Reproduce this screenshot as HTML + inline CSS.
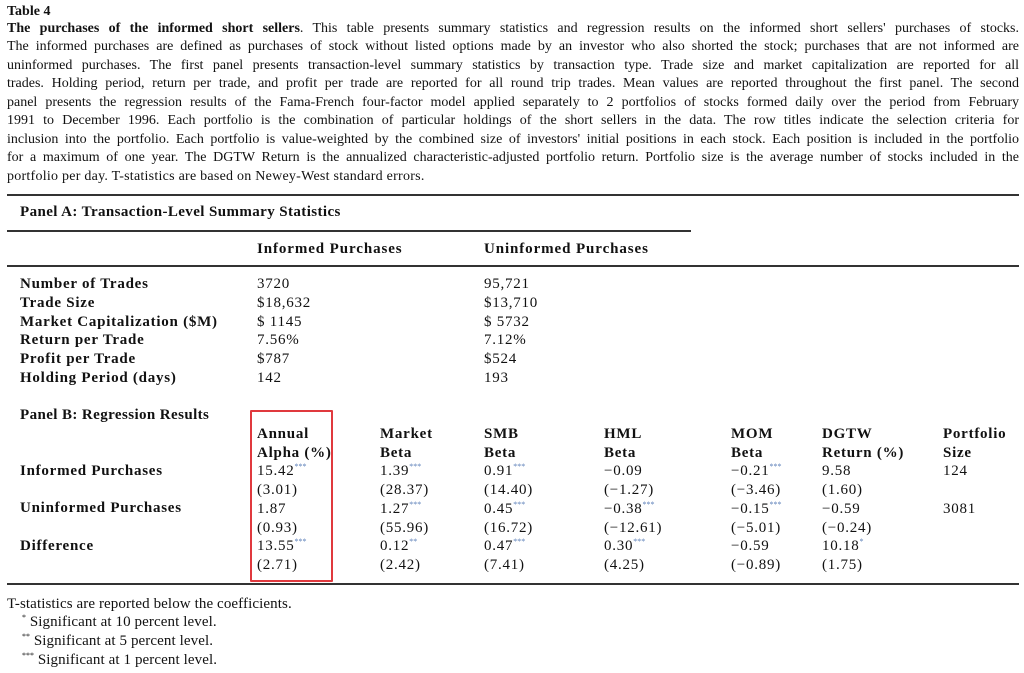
<!DOCTYPE html>
<html><head><meta charset="utf-8"><style>
body{margin:0;width:1024px;height:673px;background:#fff;font-family:"Liberation Serif",serif;color:#111;position:relative;overflow:hidden}
.a{position:absolute;font-size:14px;line-height:18px;white-space:nowrap}
.t{font-size:15px;letter-spacing:0.75px}
.p{position:absolute;left:7px;width:1012px;font-size:14px;line-height:18px;text-align:justify;text-align-last:justify;white-space:nowrap}
b{font-weight:bold}
.r{position:absolute;height:2px;background:#333}
sup{font-size:8px;color:#5b7fb8;vertical-align:6px;line-height:0;letter-spacing:0}
</style></head><body>
<div class="a" style="left:7px;top:3px"><b>Table 4</b></div>
<div class="p" style="top:20px"><b>The purchases of the informed short sellers</b>. This table presents summary statistics and regression results on the informed short sellers' purchases of stocks.</div>
<div class="p" style="top:38px">The informed purchases are defined as purchases of stock without listed options made by an investor who also shorted the stock; purchases that are not informed are</div>
<div class="p" style="top:57px">uninformed purchases. The first panel presents transaction-level summary statistics by transaction type. Trade size and market capitalization are reported for all</div>
<div class="p" style="top:75px">trades. Holding period, return per trade, and profit per trade are reported for all round trip trades. Mean values are reported throughout the first panel. The second</div>
<div class="p" style="top:94px">panel presents the regression results of the Fama-French four-factor model applied separately to 2 portfolios of stocks formed daily over the period from February</div>
<div class="p" style="top:112px">1991 to December 1996. Each portfolio is the combination of particular holdings of the short sellers in the data. The row titles indicate the selection criteria for</div>
<div class="p" style="top:131px">inclusion into the portfolio. Each portfolio is value-weighted by the combined size of investors' initial positions in each stock. Each position is included in the portfolio</div>
<div class="p" style="top:149px">for a maximum of one year. The DGTW Return is the annualized characteristic-adjusted portfolio return. Portfolio size is the average number of stocks included in the</div>
<div class="a" style="left:7px;top:168px;letter-spacing:0.25px">portfolio per day. T-statistics are based on Newey-West standard errors.</div>

<div class="r" style="left:7px;top:194px;width:1012px"></div>
<div class="a t" style="left:20px;top:203px;letter-spacing:0.4px"><b>Panel A: Transaction-Level Summary Statistics</b></div>
<div class="r" style="left:7px;top:230px;width:684px"></div>
<div class="a t" style="left:257px;top:240px;letter-spacing:0.9px"><b>Informed Purchases</b></div>
<div class="a t" style="left:484px;top:240px;letter-spacing:0.9px"><b>Uninformed Purchases</b></div>
<div class="r" style="left:7px;top:265px;width:1012px"></div>

<div class="a t" style="left:20px;top:275px;line-height:18.8px"><b>Number of Trades<br>Trade Size<br>Market Capitalization ($M)<br>Return per Trade<br>Profit per Trade<br>Holding Period (days)</b></div>
<div class="a t" style="left:257px;top:275px;line-height:18.8px">3720<br>$18,632<br>$ 1145<br>7.56%<br>$787<br>142</div>
<div class="a t" style="left:484px;top:275px;line-height:18.8px">95,721<br>$13,710<br>$ 5732<br>7.12%<br>$524<br>193</div>

<div class="a t" style="left:20px;top:406px;letter-spacing:0.4px"><b>Panel B: Regression Results</b></div>
<div class="a t" style="left:20px;top:462px;line-height:18.7px"><b>Informed Purchases<br><br>Uninformed Purchases<br><br>Difference</b></div>
<div class="a t" style="left:257px;top:425px;line-height:18.7px"><b>Annual<br>Alpha (%)</b><br>15.42<sup>***</sup><br>(3.01)<br>1.87<br>(0.93)<br>13.55<sup>***</sup><br>(2.71)</div>
<div class="a t" style="left:380px;top:425px;line-height:18.7px"><b>Market<br>Beta</b><br>1.39<sup>***</sup><br>(28.37)<br>1.27<sup>***</sup><br>(55.96)<br>0.12<sup>**</sup><br>(2.42)</div>
<div class="a t" style="left:484px;top:425px;line-height:18.7px"><b>SMB<br>Beta</b><br>0.91<sup>***</sup><br>(14.40)<br>0.45<sup>***</sup><br>(16.72)<br>0.47<sup>***</sup><br>(7.41)</div>
<div class="a t" style="left:604px;top:425px;line-height:18.7px"><b>HML<br>Beta</b><br>−0.09<br>(−1.27)<br>−0.38<sup>***</sup><br>(−12.61)<br>0.30<sup>***</sup><br>(4.25)</div>
<div class="a t" style="left:731px;top:425px;line-height:18.7px"><b>MOM<br>Beta</b><br>−0.21<sup>***</sup><br>(−3.46)<br>−0.15<sup>***</sup><br>(−5.01)<br>−0.59<br>(−0.89)</div>
<div class="a t" style="left:822px;top:425px;line-height:18.7px"><b>DGTW<br>Return (%)</b><br>9.58<br>(1.60)<br>−0.59<br>(−0.24)<br>10.18<sup>*</sup><br>(1.75)</div>
<div class="a t" style="left:943px;top:425px;line-height:18.7px"><b>Portfolio<br>Size</b><br>124<br><br>3081</div>
<div style="position:absolute;left:250px;top:410px;width:79px;height:168px;border:2px solid #e0393e;border-radius:1px"></div>
<div class="r" style="left:7px;top:583px;width:1012px"></div>

<div class="a" style="left:7px;top:595px;font-size:15px;letter-spacing:0.1px">T-statistics are reported below the coefficients.</div>
<div class="a" style="left:22px;top:613px;font-size:15px;letter-spacing:0.1px"><sup style="color:#111">*</sup> Significant at 10 percent level.</div>
<div class="a" style="left:22px;top:632px;font-size:15px;letter-spacing:0.1px"><sup style="color:#111">**</sup> Significant at 5 percent level.</div>
<div class="a" style="left:22px;top:651px;font-size:15px;letter-spacing:0.1px"><sup style="color:#111">***</sup> Significant at 1 percent level.</div>
</body></html>
